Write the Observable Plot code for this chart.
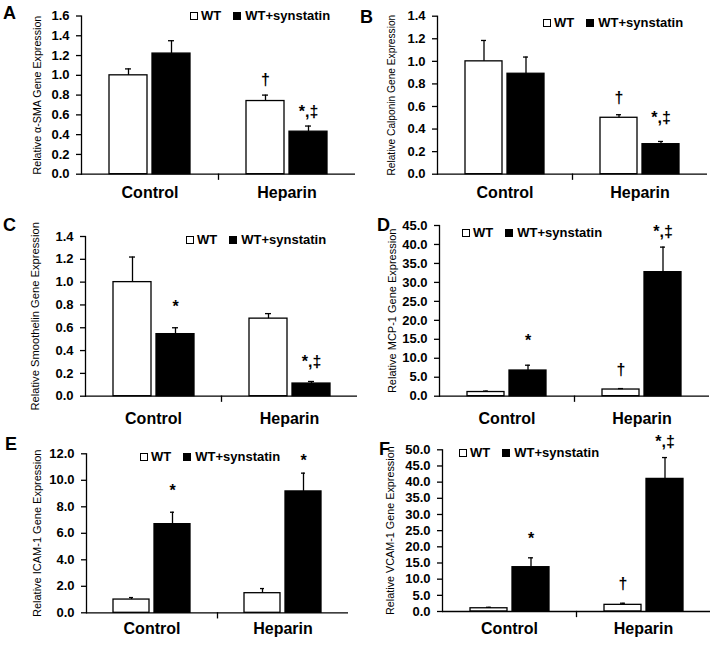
<!DOCTYPE html>
<html><head><meta charset="utf-8">
<script src="https://cdn.jsdelivr.net/npm/d3@7"></script>
<script src="https://cdn.jsdelivr.net/npm/@observablehq/plot@0.6"></script>
<style>
body{margin:0;background:#fff;}
#fig{position:relative;width:714px;height:646px;font-family:"Liberation Sans",Arial,sans-serif;overflow:hidden;background:#fff;}
.panel{position:absolute;}
.letter{position:absolute;font-weight:bold;font-size:18px;line-height:18px;color:#000;}
.legend{position:absolute;display:flex;align-items:center;height:14px;font-weight:bold;font-size:13px;line-height:14px;white-space:nowrap;color:#000;}
.sw{width:6px;height:6px;border:1.4px solid #000;display:inline-block;}
.panel svg g[aria-label="y-axis tick label"] text{font-weight:bold;}
.panel svg g[aria-label="fx-axis tick label"] text{font-weight:bold;}
</style></head><body><div id="fig"></div><script>
// ---- data ----
const categories = ["Control", "Heparin"];
const series = ["WT", "WT+synstatin"];
const panelLetters = ["A", "B", "C", "D", "E", "F"];
const yLabels = [
  "Relative \u03b1-SMA Gene Expression",
  "Relative Calponin Gene Expression",
  "Relative Smoothelin Gene Expression",
  "Relative MCP-1 Gene Expression",
  "Relative ICAM-1 Gene Expression",
  "Relative VCAM-1 Gene Expression"
];

// A: alpha-SMA
const smaWT = [1.00, 0.74], smaWTErr = [0.065, 0.06];
const smaSyn = [1.22, 0.43], smaSynErr = [0.13, 0.057];
const smaTicks = [0, 0.2, 0.4, 0.6, 0.8, 1.0, 1.2, 1.4, 1.6];
const smaNotes = [["Heparin", "WT", "\u2020", 0.95], ["Heparin", "WT+synstatin", "*,\u2021", 0.63]];

// B: Calponin
const calWT = [1.00, 0.50], calWTErr = [0.185, 0.027];
const calSyn = [0.89, 0.266], calSynErr = [0.148, 0.024];
const calTicks = [0, 0.2, 0.4, 0.6, 0.8, 1.0, 1.2, 1.4];
const calNotes = [["Heparin", "WT", "\u2020", 0.68], ["Heparin", "WT+synstatin", "*,\u2021", 0.50]];

// C: Smoothelin
const smoWT = [1.00, 0.68], smoWTErr = [0.22, 0.044];
const smoSyn = [0.544, 0.111], smoSynErr = [0.056, 0.018];
const smoTicks = [0, 0.2, 0.4, 0.6, 0.8, 1.0, 1.2, 1.4];
const smoNotes = [["Control", "WT+synstatin", "*", 0.78], ["Heparin", "WT+synstatin", "*,\u2021", 0.30]];

// D: MCP-1
const mcpWT = [1.1, 1.76], mcpWTErr = [0.25, 0.25];
const mcpSyn = [6.77, 32.7], mcpSynErr = [1.4, 6.6];
const mcpTicks = [0, 5, 10, 15, 20, 25, 30, 35, 40, 45];
const mcpNotes = [["Control", "WT+synstatin", "*", 14.7], ["Heparin", "WT", "\u2020", 7.0], ["Heparin", "WT+synstatin", "*,\u2021", 43.2]];

// E: ICAM-1
const icaWT = [1.0, 1.48], icaWTErr = [0.15, 0.35];
const icaSyn = [6.69, 9.16], icaSynErr = [0.9, 1.38];
const icaTicks = [0, 2, 4, 6, 8, 10, 12];
const icaNotes = [["Control", "WT+synstatin", "*", 9.23], ["Heparin", "WT+synstatin", "*", 11.44]];

// F: VCAM-1
const vcaWT = [1.0, 2.06], vcaWTErr = [0.3, 0.5];
const vcaSyn = [13.7, 41.0], vcaSynErr = [2.9, 6.6];
const vcaTicks = [0, 5, 10, 15, 20, 25, 30, 35, 40, 45, 50];
const vcaNotes = [["Control", "WT+synstatin", "*", 22.5], ["Heparin", "WT", "\u2020", 8.56], ["Heparin", "WT+synstatin", "*,\u2021", 52.6]];

// ---- layout (page pixels) ----
const layouts = [
  {left: 0,   top: 0,   height: 210, ml: 81, mr: 2, mt: 15.5, mb: 36.3, fxPad: 12,   labelX: 37,   labelSize: 10.7, legend: [190, 16.3],  letter: [3, 4.4]},
  {left: 357, top: 0,   height: 210, ml: 79, mr: 7, mt: 15.7, mb: 36.3, fxPad: 12,   labelX: 33.5, labelSize: 10.2, legend: [543, 22.7],  letter: [360, 7.7]},
  {left: 0,   top: 210, height: 215, ml: 85, mr: 0, mt: 26,   mb: 29.3, fxPad: 16.6, labelX: 34.5, labelSize: 11.2, legend: [186, 240],   letter: [3, 215.7]},
  {left: 357, top: 210, height: 215, ml: 82, mr: 5, mt: 15,   mb: 29.3, fxPad: 16.6, labelX: 34.5, labelSize: 11,   legend: [462, 232.7], letter: [377, 215.7]},
  {left: 0,   top: 420, height: 226, ml: 86, mr: 9, mt: 33.3, mb: 33.7, fxPad: 10,   labelX: 37,   labelSize: 11,   legend: [140, 457],   letter: [5, 434.7]},
  {left: 357, top: 420, height: 226, ml: 85, mr: 4, mt: 29.3, mb: 35,   fxPad: 11.3, labelX: 33.5, labelSize: 10.8, legend: [459, 453],   letter: [379, 439.7]}
];

const panelData = [
  [smaWT, smaWTErr, smaSyn, smaSynErr, smaTicks, smaNotes],
  [calWT, calWTErr, calSyn, calSynErr, calTicks, calNotes],
  [smoWT, smoWTErr, smoSyn, smoSynErr, smoTicks, smoNotes],
  [mcpWT, mcpWTErr, mcpSyn, mcpSynErr, mcpTicks, mcpNotes],
  [icaWT, icaWTErr, icaSyn, icaSynErr, icaTicks, icaNotes],
  [vcaWT, vcaWTErr, vcaSyn, vcaSynErr, vcaTicks, vcaNotes]
];

const FONT = "'Liberation Sans', Arial, sans-serif";
const fig = document.getElementById("fig");

panelData.forEach(([wt, wtErr, syn, synErr, ticks, notesRaw], k) => {
  const L = layouts[k];
  const rows = [];
  categories.forEach((c, i) => {
    rows.push({cat: c, series: series[0], value: wt[i], err: wtErr[i]});
    rows.push({cat: c, series: series[1], value: syn[i], err: synErr[i]});
  });
  const notes = notesRaw.map(([cat, s, label, y]) => ({cat, series: s, label, y}));
  const innerH = L.height - L.mt - L.mb;
  const chart = Plot.plot({
    width: 357, height: L.height,
    marginLeft: L.ml, marginRight: L.mr, marginTop: L.mt, marginBottom: L.mb,
    style: {background: "transparent", overflow: "visible", fontFamily: FONT, color: "#000"},
    fx: {domain: categories, padding: 0, axis: null, label: null},
    x: {domain: series, paddingInner: 0.12, paddingOuter: 0.64, axis: null},
    y: {domain: [0, d3.max(ticks)], axis: null},
    color: {domain: series, range: ["#ffffff", "#000000"]},
    marks: [
      Plot.barY(rows, {fx: "cat", x: "series", y: "value", fill: "series", stroke: "#000", strokeWidth: 1.3}),
      Plot.ruleX(rows, {fx: "cat", x: "series", y1: "value", y2: d => d.value + d.err, stroke: "#000", strokeWidth: 1.3}),
      Plot.tickY(rows, {fx: "cat", x: "series", y: d => d.value + d.err, insetLeft: 16, insetRight: 16, stroke: "#000", strokeWidth: 1.3}),
      Plot.ruleY([0], {stroke: "#000", strokeWidth: 1.3}),
      Plot.frame({anchor: "left", facetAnchor: "left", stroke: "#000", strokeWidth: 1.3}),
      Plot.frame({anchor: "right", facetAnchor: "left", insetTop: innerH, insetBottom: -5, stroke: "#000", strokeWidth: 1.3}),
      Plot.axisY({ticks, tickFormat: d3.format(".1f"), tickSize: 5, tickPadding: 7, fontSize: 13, fontWeight: "bold", strokeWidth: 1.3, label: null}),
      Plot.axisFx({anchor: "bottom", tickSize: 0, tickPadding: L.fxPad, fontSize: 16, fontWeight: "bold", label: null}),
      Plot.text([yLabels[k]], {frameAnchor: "left", textAnchor: "middle", rotate: -90, dx: L.labelX - L.ml, fontSize: L.labelSize, facetAnchor: "left"}),
      Plot.text(notes, {fx: "cat", x: "series", y: "y", text: "label", fontSize: 16, fontWeight: "bold"})
    ]
  });
  const wrap = document.createElement("div");
  wrap.className = "panel";
  wrap.style.left = L.left + "px";
  wrap.style.top = L.top + "px";
  wrap.appendChild(chart);
  fig.appendChild(wrap);

  // legend
  const lg = document.createElement("div");
  lg.className = "legend";
  lg.style.left = L.legend[0] + "px";
  lg.style.top = (L.legend[1] - 7) + "px";
  lg.innerHTML = `<span class="sw" style="background:#fff"></span><span style="margin-left:3px;margin-right:12px">${series[0]}</span><span class="sw" style="background:#000"></span><span style="margin-left:4px">${series[1]}</span>`;
  fig.appendChild(lg);

  // panel letter
  const lt = document.createElement("div");
  lt.className = "letter";
  lt.style.left = L.letter[0] + "px";
  lt.style.top = L.letter[1] + "px";
  lt.textContent = panelLetters[k];
  fig.appendChild(lt);
});
</script></body></html>
